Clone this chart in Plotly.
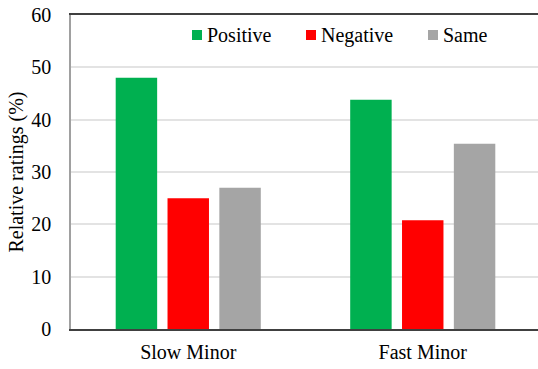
import plotly.graph_objects as go

# Relative ratings per condition
categories = ["Slow Minor", "Fast Minor"]
positive = [48.0, 43.8]
negative = [25.0, 20.8]
same = [27.0, 35.4]

series = [
    ("Positive", positive, "#00B050"),
    ("Negative", negative, "#FF0000"),
    ("Same", same, "#A5A5A5"),
]

font_family = "Liberation Serif"

# Plot area in pixels (used to place the legend key in paper units)
W, H = 538, 369
M_L, M_R, M_T, M_B = 71, 0, 15, 40
plot_w = W - M_L - M_R
plot_h = H - M_T - M_B


def px_to_paper_x(px):
    return (px - M_L) / plot_w


def px_to_paper_y(py):
    return (H - M_B - py) / plot_h


fig = go.Figure()
for name, vals, color in series:
    fig.add_trace(go.Bar(
        name=name,
        x=categories,
        y=vals,
        marker=dict(color=color, line=dict(width=0)),
        showlegend=False,
    ))

# Legend key: small square swatch followed by the series name
key_left = [192, 306, 428]
key_size = 10
key_mid = 35
for (name, _, color), left in zip(series, key_left):
    fig.add_shape(
        type="rect", xref="paper", yref="paper",
        x0=px_to_paper_x(left), x1=px_to_paper_x(left + key_size),
        y0=px_to_paper_y(key_mid + key_size / 2), y1=px_to_paper_y(key_mid - key_size / 2),
        fillcolor=color, line=dict(width=0), layer="above",
    )
    fig.add_annotation(
        xref="paper", yref="paper",
        x=px_to_paper_x(left + key_size + 3), y=px_to_paper_y(key_mid),
        xanchor="left", yanchor="middle",
        text=name, showarrow=False,
        font=dict(family=font_family, size=20, color="#000000"),
    )

fig.update_layout(
    width=W,
    height=H,
    margin=dict(l=M_L, r=M_R, t=M_T, b=M_B),
    paper_bgcolor="white",
    plot_bgcolor="white",
    barmode="group",
    bargap=0.337,
    bargroupgap=0.2,
    font=dict(family=font_family, size=20, color="#000000"),
    showlegend=False,
)

fig.update_xaxes(
    range=[-0.5, 1.4915],
    showline=True,
    linecolor="#404040",
    linewidth=1.5,
    mirror=True,
    ticks="",
    showgrid=False,
    ticklabelstandoff=4,
    tickfont=dict(family=font_family, size=20, color="#000000"),
)

fig.update_yaxes(
    range=[0, 60],
    tickvals=[0, 10, 20, 30, 40, 50, 60],
    showline=True,
    linecolor="#A0A0A0",
    linewidth=1.5,
    ticks="",
    showgrid=True,
    gridcolor="#E3E3E3",
    gridwidth=1.5,
    zeroline=False,
    ticklabelstandoff=14,
    tickfont=dict(family=font_family, size=20, color="#000000"),
    title=dict(text="Relative ratings (%)", standoff=2,
               font=dict(family=font_family, size=20, color="#000000")),
)

fig.write_html("out.html")
